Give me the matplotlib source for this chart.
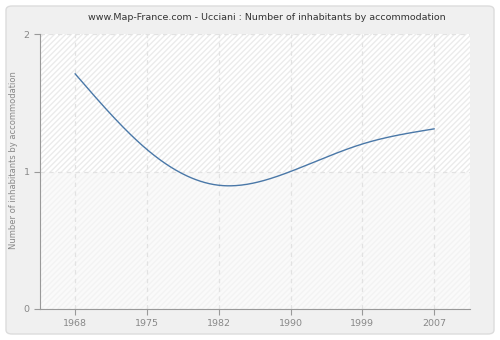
import numpy as np
import matplotlib
matplotlib.use("Agg")
import matplotlib.pyplot as plt
from matplotlib.patches import FancyBboxPatch, Rectangle

years = [1968, 1975, 1982, 1990, 1999, 2007]
values = [1.71, 1.16, 0.90, 1.00, 1.20, 1.31]
yticks = [0, 1, 2]
title = "www.Map-France.com - Ucciani : Number of inhabitants by accommodation"
ylabel = "Number of inhabitants by accommodation"


def natural_spline(x, y, xs):
    x = np.asarray(x, float); y = np.asarray(y, float)
    n = len(x)
    h = np.diff(x)
    A = np.zeros((n, n)); b = np.zeros(n)
    A[0, 0] = 1; A[-1, -1] = 1
    for i in range(1, n - 1):
        A[i, i - 1] = h[i - 1]
        A[i, i] = 2 * (h[i - 1] + h[i])
        A[i, i + 1] = h[i]
        b[i] = 3 * ((y[i + 1] - y[i]) / h[i] - (y[i] - y[i - 1]) / h[i - 1])
    c = np.linalg.solve(A, b)
    out = np.empty_like(xs)
    for k, xv in enumerate(xs):
        i = min(max(np.searchsorted(x, xv) - 1, 0), n - 2)
        d = xv - x[i]
        bi = (y[i + 1] - y[i]) / h[i] - h[i] * (2 * c[i] + c[i + 1]) / 3
        di = (c[i + 1] - c[i]) / (3 * h[i])
        out[k] = y[i] + bi * d + c[i] * d ** 2 + di * d ** 3
    return out


fig = plt.figure(figsize=(5, 3.4), dpi=100)
fig.patch.set_facecolor("white")
bg = FancyBboxPatch((6 / 500, 6 / 340), 488 / 500, 328 / 340,
                    boxstyle="round,pad=0,rounding_size=0.012",
                    transform=fig.transFigure, facecolor="#f0f0f0",
                    edgecolor="#dcdcdc", linewidth=1, zorder=-10)
fig.patches.append(bg)

ax = fig.add_axes([40 / 500, 31 / 340, 430 / 500, 275 / 340])
ax.set_zorder(1)
ax.set_facecolor("white")
pos = np.arange(len(years))
ax.set_xlim(-0.49, len(years) - 0.5)
ax.set_ylim(0, 2)

# hatch background (upper half a bit stronger than lower half)
ax.add_patch(Rectangle((0, 0.5), 1, 0.5, transform=ax.transAxes, facecolor="white",
                       edgecolor="#ebebeb", hatch="//////", linewidth=0, zorder=0))
ax.add_patch(Rectangle((0, 0), 1, 0.5, transform=ax.transAxes, facecolor="#fafafa",
                       edgecolor="#f3f3f3", hatch="//////", linewidth=0, zorder=0))

xs = np.linspace(0, len(years) - 1, 400)
ax.plot(xs, natural_spline(pos, values, xs), color="#4a78a8", linewidth=1.0, zorder=3)

ax.set_xticks(pos)
ax.set_xticklabels([str(y) for y in years])
ax.set_yticks(yticks)
ax.grid(True, color="#e2e2e2", linestyle=(0, (3.5, 3.5)), linewidth=0.9)
ax.set_axisbelow(True)
for s in ["top", "right"]:
    ax.spines[s].set_visible(False)
for s in ["left", "bottom"]:
    ax.spines[s].set_color("#999999")
ax.tick_params(colors="#999999", labelcolor="#888888", labelsize=6.8, length=4, width=0.8)
fig.text(14 / 500, 1 - 160 / 340, ylabel, rotation=90, ha="center", va="center",
         fontsize=6, color="#888888")
fig.text(267 / 500, 1 - 18 / 340, title, ha="center", va="center", fontsize=6.8, color="#333333")

fig.savefig("out.png", dpi=100, facecolor=fig.get_facecolor())
